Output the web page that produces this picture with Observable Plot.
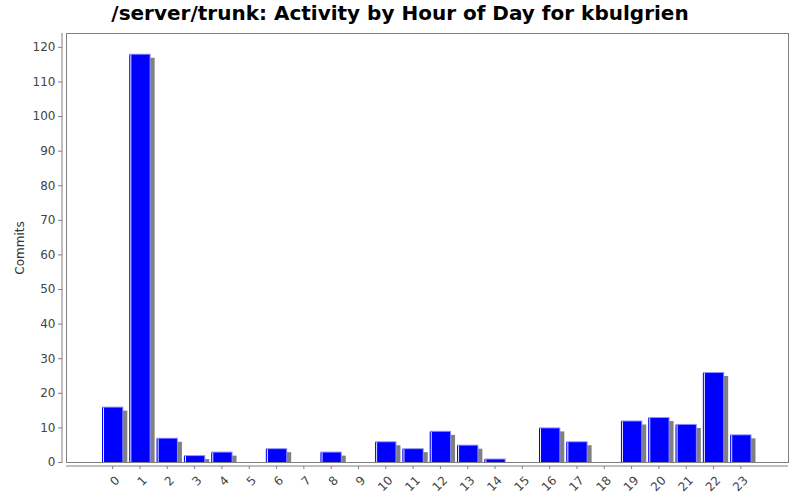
<!DOCTYPE html>
<html>
<head>
<meta charset="utf-8">
<script src="https://cdn.jsdelivr.net/npm/d3@7"></script>
<script src="https://cdn.jsdelivr.net/npm/@observablehq/plot@0.6"></script>
<style>
  body { margin: 0; background: #fff; }
  #title { width: 800px; height: 30px; box-sizing: border-box; padding-top: 1px; line-height: 24px;
           text-align: center; font: bold 20px "DejaVu Sans", sans-serif; color: #000; white-space: nowrap; }
</style>
</head>
<body>
<div id="title">/server/trunk: Activity by Hour of Day for kbulgrien</div>
<div id="chart"></div>
<script>
const hours = ["0","1","2","3","4","5","6","7","8","9","10","11","12","13","14","15","16","17","18","19","20","21","22","23"];
const commits = [16,118,7,2,3,0,4,0,3,0,6,4,9,5,1,0,10,6,0,12,13,11,26,8];
const yTicks = [0,10,20,30,40,50,60,70,80,90,100,110,120];
const yLabel = "Commits";

const data = hours.map((h, i) => ({hour: h, commits: commits[i]})).filter(d => d.commits > 0);

// axis lines (offset from the plot frame) and category tick marks
const axisLines = (index, scales, values, dimensions) => {
  const {width, height, marginLeft, marginRight, marginTop, marginBottom} = dimensions;
  const x = scales.x;
  const bwf = typeof x.bandwidth === "function" ? x.bandwidth() : (x.bandwidth || 0);
  const base = height - marginBottom + 4;
  const g = d3.create("svg:g").attr("stroke", "#808080").attr("stroke-width", 1);
  g.append("line").attr("x1", marginLeft - 4).attr("x2", marginLeft - 4)
    .attr("y1", marginTop).attr("y2", height - marginBottom + 1);
  g.append("line").attr("x1", marginLeft).attr("x2", width - marginRight)
    .attr("y1", base).attr("y2", base);
  for (const h of hours) {
    const cx = x(h) + bwf / 2;
    g.append("line").attr("x1", cx).attr("x2", cx).attr("y1", base).attr("y2", base + 3);
  }
  return g.node();
};

const bw = 21.3;

const chart = Plot.plot({
  width: 800,
  height: 470,
  marginTop: 3,
  marginBottom: 38,
  marginLeft: 66,
  marginRight: 12,
  style: {fontFamily: "'DejaVu Sans', sans-serif", fontSize: "12px", background: "#fff"},
  x: {type: "band", domain: hours, round: false, paddingInner: 0.22, paddingOuter: 0.11, insetLeft: 33, insetRight: 33.5, label: null},
  y: {domain: [0, 124], label: null},
  marks: [
    Plot.barY(data, {x: "hour", y: "commits", fill: "#808080", dx: 4, insetTop: 4}),
    Plot.barY(data, {x: "hour", y: "commits", fill: "#8c8cff"}),
    Plot.barY(data, {x: "hour", y: "commits", fill: "#0000ff", insetTop: 1, insetRight: 1}),
    Plot.barY(data, {x: "hour", y: "commits", fill: "#e8e8ff", insetTop: 1, insetLeft: 1, insetRight: bw - 2}),
    Plot.frame({stroke: "#808080"}),
    axisLines,
    Plot.axisY({ticks: yTicks, tickSize: 4, tickPadding: 3, dx: -4, stroke: "#808080", fill: "#444", label: null, fontSize: 12}),
    Plot.axisX({tickSize: 0, tickPadding: 16, dx: 4.5, tickRotate: -45, fill: "#444", label: null, fontSize: 12}),
    Plot.text([yLabel], {frameAnchor: "left", textAnchor: "middle", lineAnchor: "middle", rotate: -90, dx: -46, fill: "#333", fontSize: 12})
  ]
});
document.getElementById("chart").appendChild(chart);
</script>
</body>
</html>
